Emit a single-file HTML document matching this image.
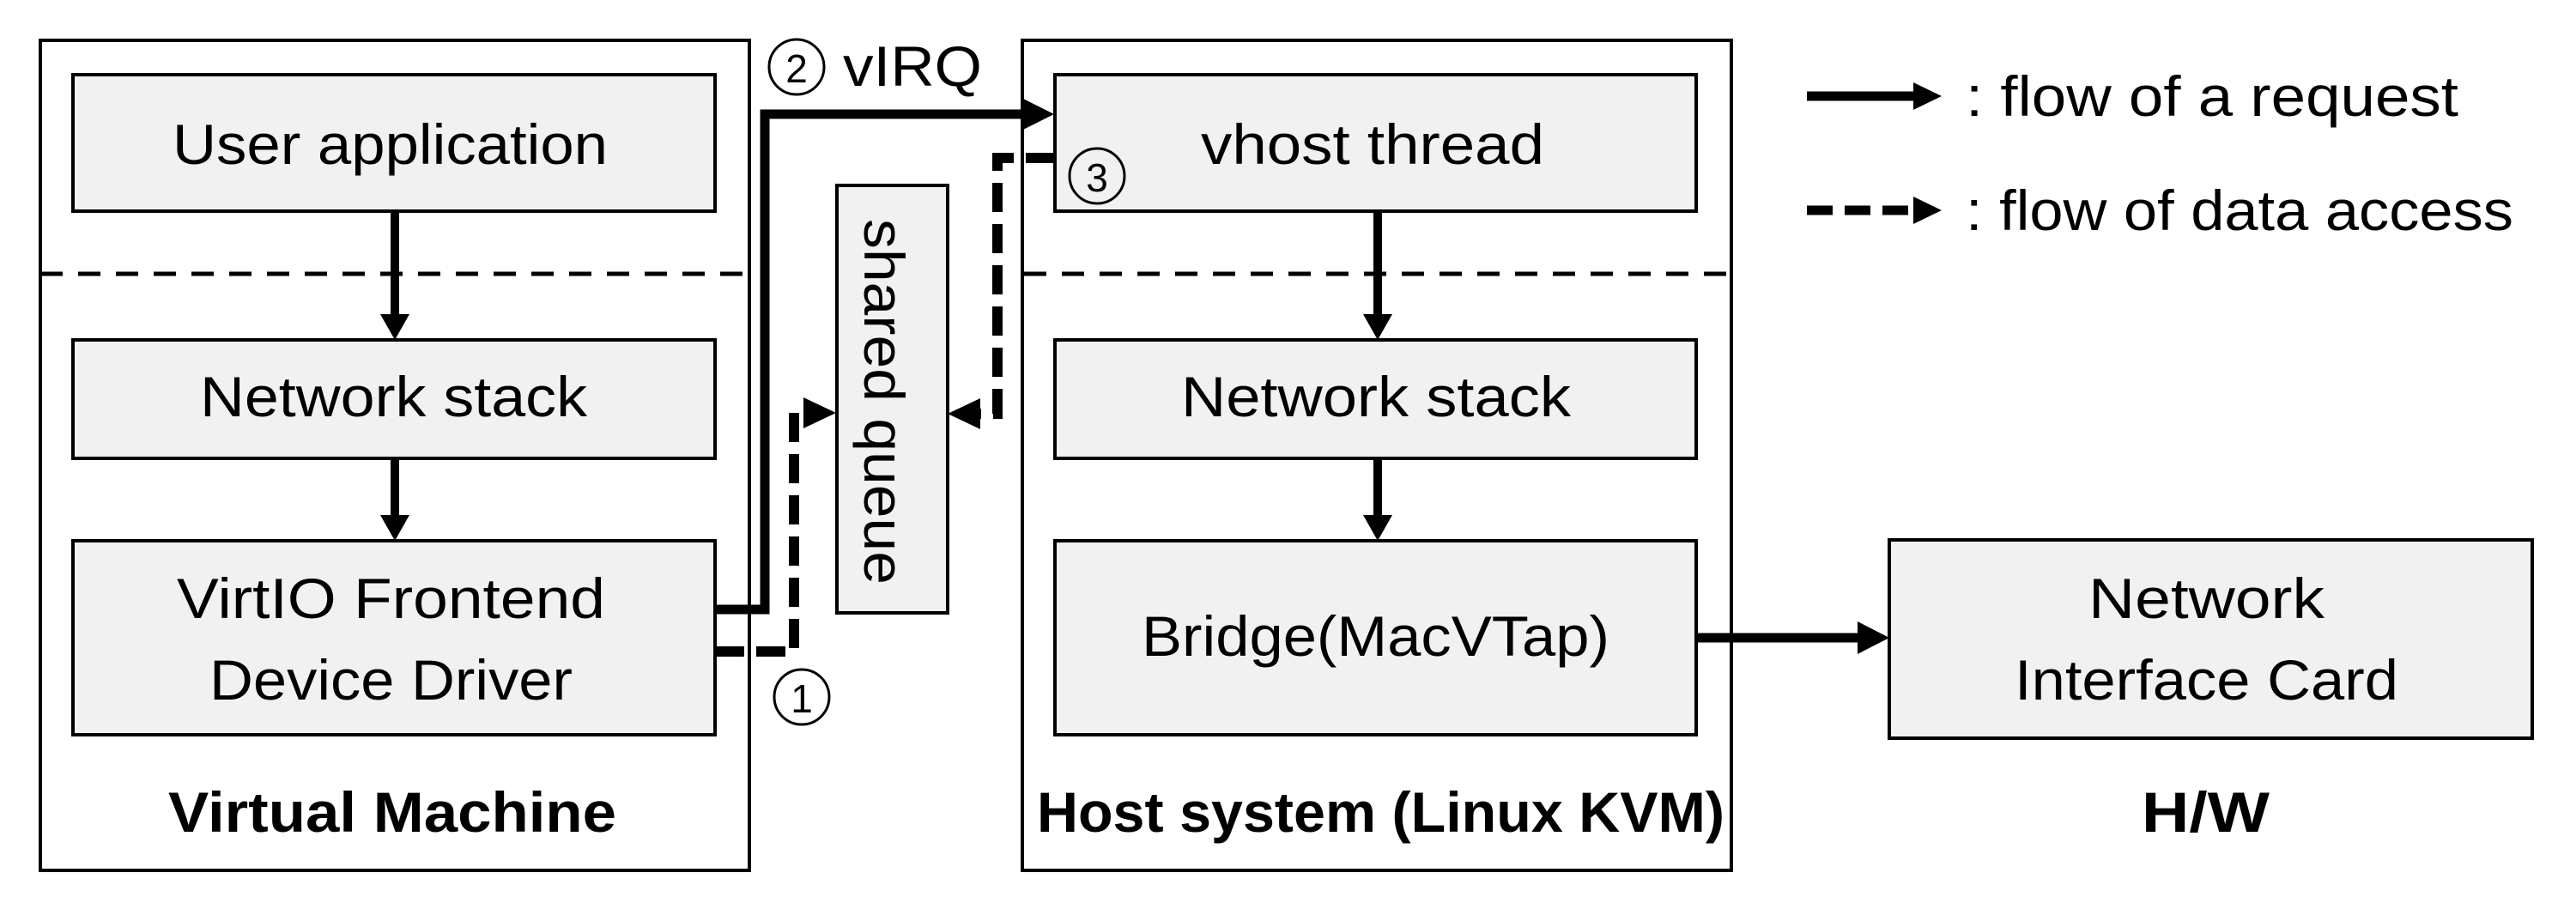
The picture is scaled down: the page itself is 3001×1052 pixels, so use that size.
<!DOCTYPE html>
<html><head><meta charset="utf-8"><style>
html,body{margin:0;padding:0;background:#fff;}
svg{display:block;}
text{font-family:"Liberation Sans",sans-serif;fill:#000;dominant-baseline:central;}
</style></head><body>
<svg width="3001" height="1052" viewBox="0 0 3001 1052" xmlns="http://www.w3.org/2000/svg">
<g fill="none" stroke="#000" stroke-width="4">
<rect x="47" y="47" width="826" height="967"/>
<rect x="1191" y="47" width="826" height="967"/>
</g>
<g stroke="#000" stroke-width="5" stroke-dasharray="26,18">
<line x1="47" y1="319" x2="871" y2="319"/>
<line x1="1193" y1="319" x2="2017" y2="319"/>
</g>
<g fill="#f1f1f1" stroke="#000" stroke-width="4">
<rect x="85" y="87" width="748" height="159"/>
<rect x="85" y="396" width="748" height="138"/>
<rect x="85" y="630" width="748" height="226"/>
<rect x="1229" y="87" width="747" height="159"/>
<rect x="1229" y="396" width="747" height="138"/>
<rect x="1229" y="630" width="747" height="226"/>
<rect x="2201" y="629" width="749" height="231"/>
<rect x="975" y="216" width="129" height="498"/>
</g>
<g stroke="#000" stroke-width="10">
<line x1="460" y1="246" x2="460" y2="372"/>
<line x1="460" y1="534" x2="460" y2="606"/>
<line x1="1605" y1="246" x2="1605" y2="372"/>
<line x1="1605" y1="534" x2="1605" y2="606"/>
</g>
<g fill="#000">
<polygon points="443,366 477,366 460,396"/>
<polygon points="443,600 477,600 460,630"/>
<polygon points="1588,366 1622,366 1605,396"/>
<polygon points="1588,600 1622,600 1605,630"/>
</g>
<polyline points="833,710 891,710 891,133 1195,133" fill="none" stroke="#000" stroke-width="11"/>
<polygon points="1190,114 1228,133 1190,152" fill="#000"/>
<polyline points="833,759 925,759 925,481 940,481" fill="none" stroke="#000" stroke-width="12" stroke-dasharray="34,14"/>
<polygon points="936,463 974,481 936,499" fill="#000"/>
<polyline points="1229,184 1162,184 1162,482 1135,482" fill="none" stroke="#000" stroke-width="12" stroke-dasharray="34,14"/>
<polygon points="1142,464 1104,482 1142,500" fill="#000"/>
<line x1="1976" y1="743" x2="2170" y2="743" stroke="#000" stroke-width="11"/>
<polygon points="2164,724 2201,743 2164,762" fill="#000"/>
<line x1="2105" y1="112" x2="2235" y2="112" stroke="#000" stroke-width="11"/>
<polygon points="2229,96 2262,112 2229,128" fill="#000"/>
<line x1="2105" y1="245" x2="2235" y2="245" stroke="#000" stroke-width="11" stroke-dasharray="30,14"/>
<polygon points="2229,229 2262,245 2229,261" fill="#000"/>
<g fill="none" stroke="#000" stroke-width="3">
<circle cx="928" cy="78" r="32"/>
<circle cx="934" cy="812" r="32"/>
<circle cx="1278" cy="205" r="32"/>
</g>
<g font-size="46" text-anchor="middle">
<text x="928" y="80">2</text>
<text x="934" y="814">1</text>
<text x="1278" y="207">3</text>
</g>
<g font-size="66">
<text x="201" y="168" textLength="507" lengthAdjust="spacingAndGlyphs">User application</text>
<text x="233" y="462" textLength="451" lengthAdjust="spacingAndGlyphs">Network stack</text>
<text x="206" y="697" textLength="499" lengthAdjust="spacingAndGlyphs">VirtIO Frontend</text>
<text x="244" y="792" textLength="423" lengthAdjust="spacingAndGlyphs">Device Driver</text>
<text x="1399" y="168" textLength="400" lengthAdjust="spacingAndGlyphs">vhost thread</text>
<text x="1376" y="462" textLength="454" lengthAdjust="spacingAndGlyphs">Network stack</text>
<text x="1330" y="741" textLength="545" lengthAdjust="spacingAndGlyphs">Bridge(MacVTap)</text>
<text x="2433" y="697" textLength="275" lengthAdjust="spacingAndGlyphs">Network</text>
<text x="2347" y="792" textLength="447" lengthAdjust="spacingAndGlyphs">Interface Card</text>
<text x="2290" y="112" textLength="574" lengthAdjust="spacingAndGlyphs">: flow of a request</text>
<text x="2290" y="245" textLength="638" lengthAdjust="spacingAndGlyphs">: flow of data access</text>
<text x="1030" y="468" text-anchor="middle" transform="rotate(90 1030 468)" textLength="426" lengthAdjust="spacingAndGlyphs">shared queue</text>
<text x="982" y="77" textLength="162" lengthAdjust="spacingAndGlyphs">vIRQ</text>
</g>
<g font-size="66" font-weight="bold">
<text x="196" y="946" textLength="522" lengthAdjust="spacingAndGlyphs">Virtual Machine</text>
<text x="1208" y="946" textLength="801" lengthAdjust="spacingAndGlyphs">Host system (Linux KVM)</text>
<text x="2495" y="946" textLength="149" lengthAdjust="spacingAndGlyphs">H/W</text>
</g>
</svg>
</body></html>
